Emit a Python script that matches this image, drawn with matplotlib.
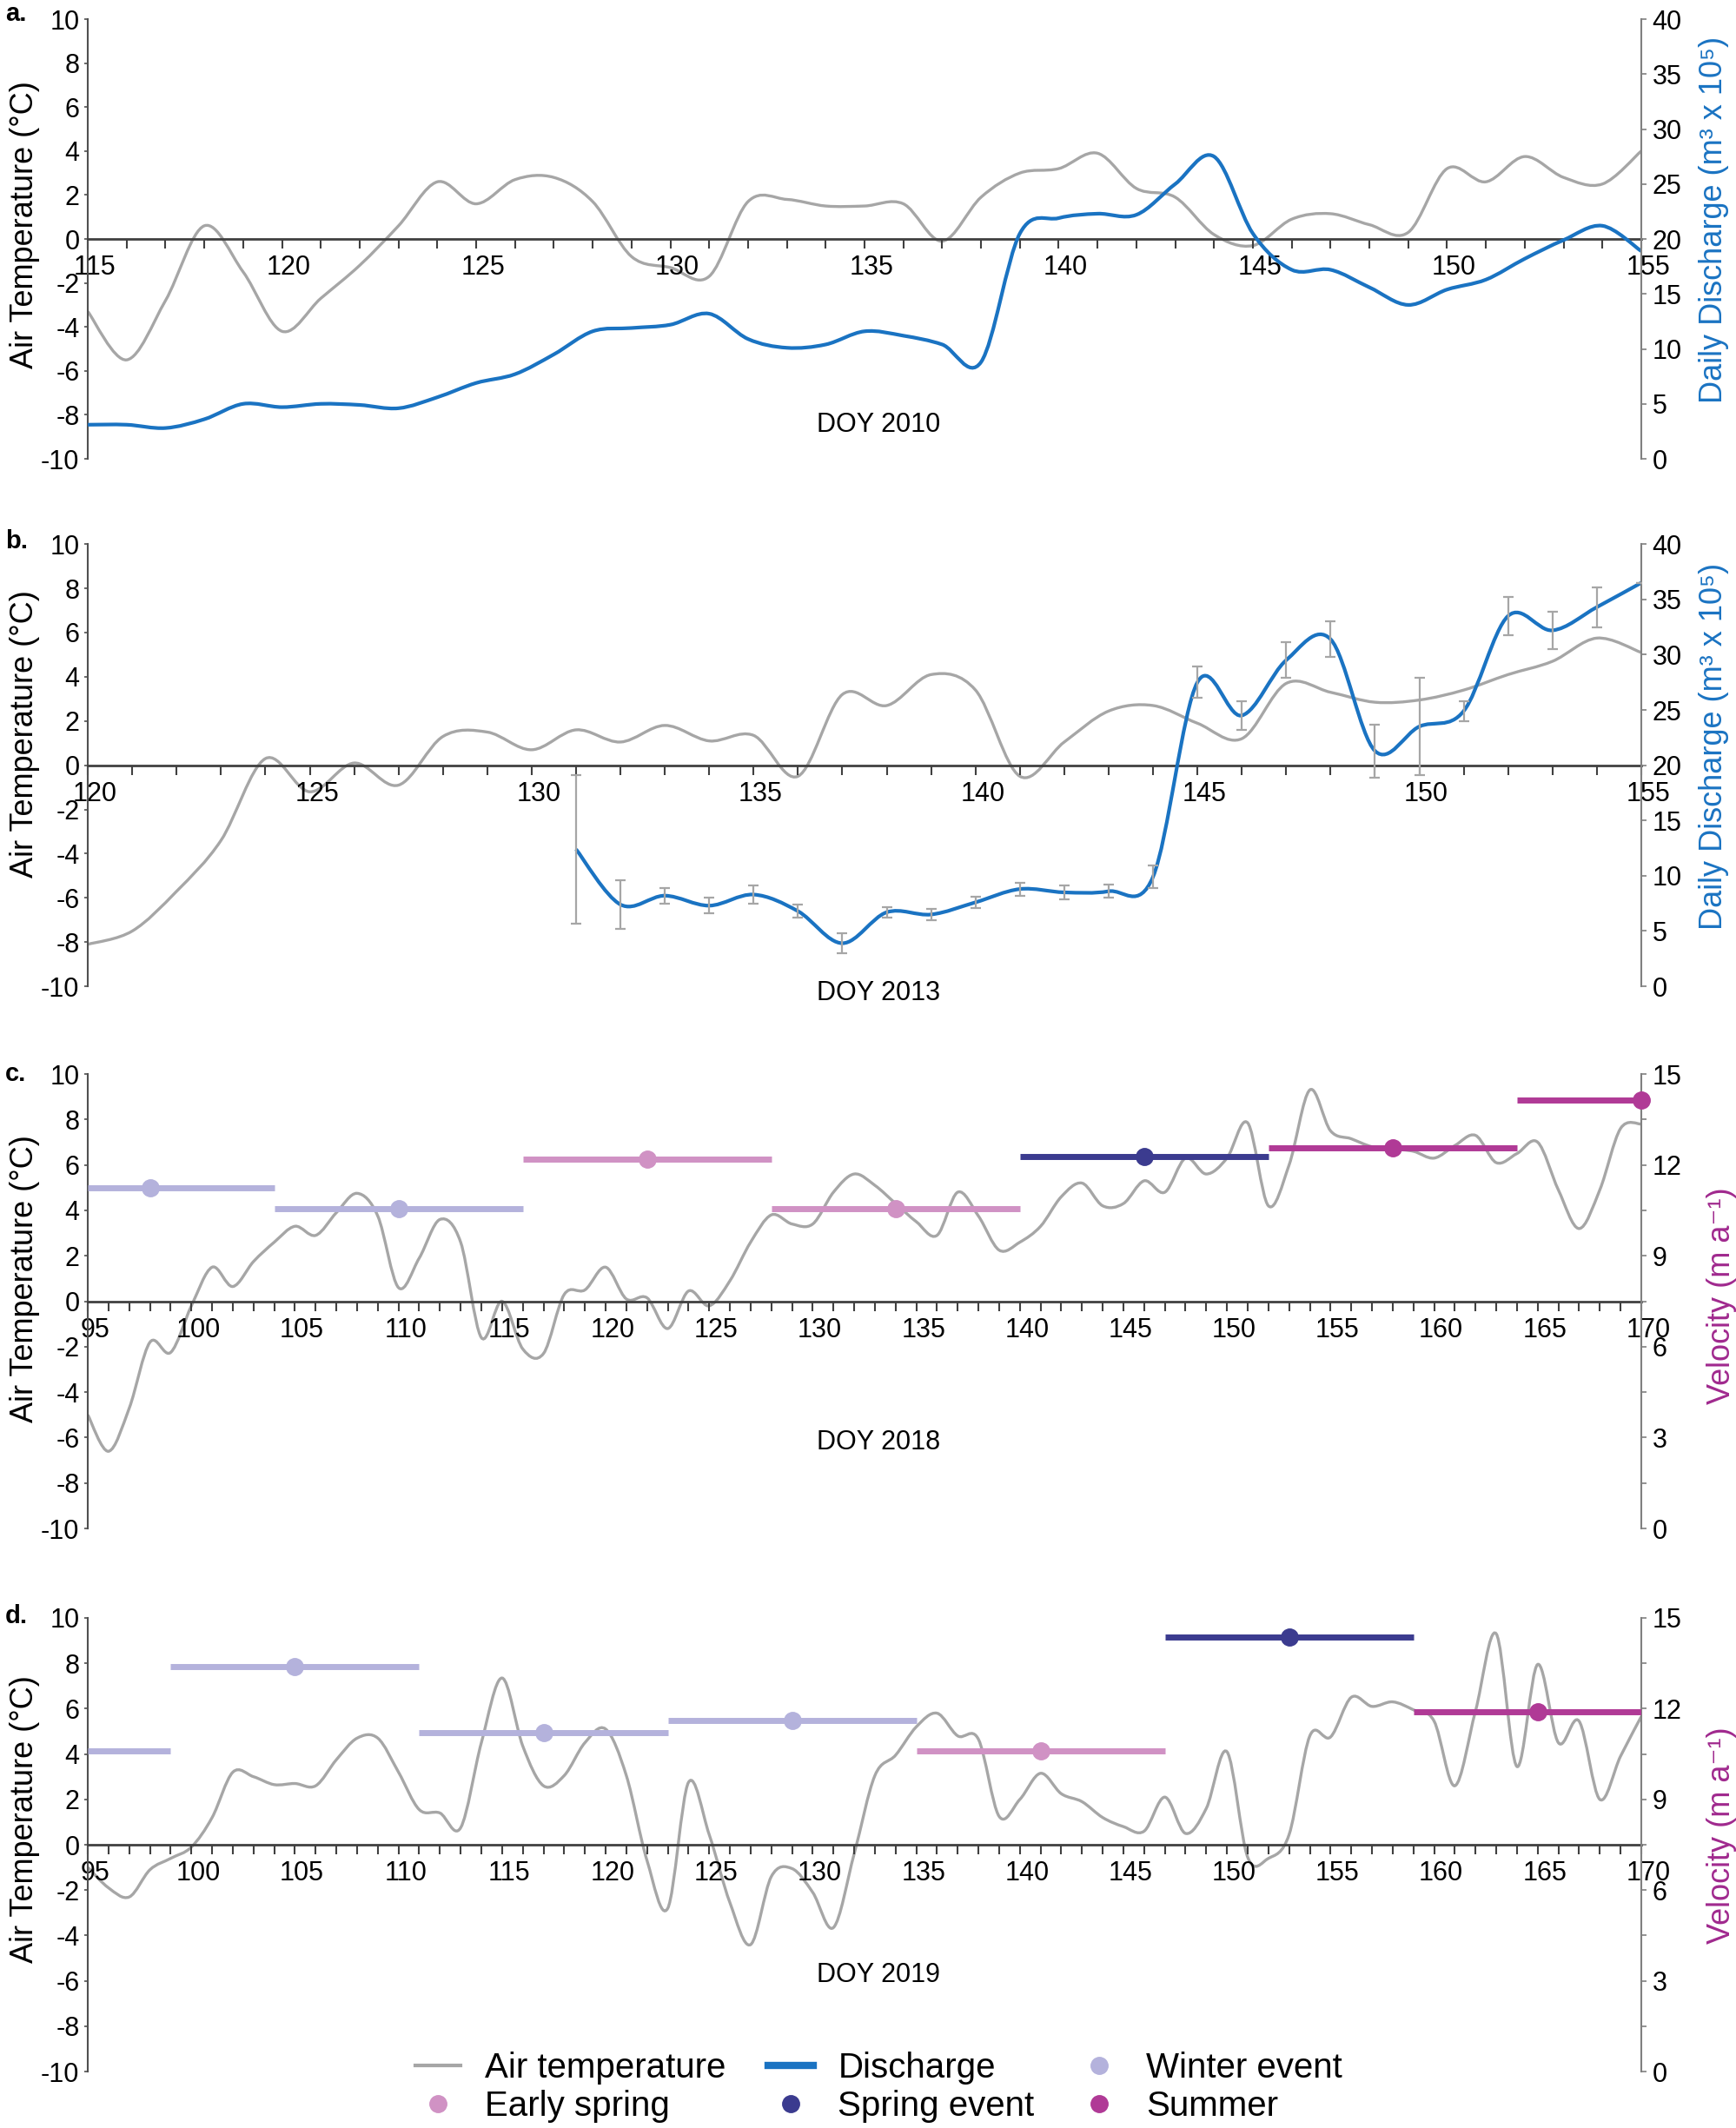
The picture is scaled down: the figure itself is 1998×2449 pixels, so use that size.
import matplotlib
matplotlib.use('Agg')
import matplotlib.pyplot as plt
import matplotlib.transforms as mtransforms
from matplotlib.path import Path
from matplotlib.patches import PathPatch
from matplotlib.lines import Line2D
from matplotlib.ticker import MultipleLocator, FixedLocator
from matplotlib import font_manager
import numpy as np

names = {f.name for f in font_manager.fontManager.ttflist}
NARROW = 'Liberation Sans Narrow' if 'Liberation Sans Narrow' in names else 'Liberation Sans'
plt.rcParams['font.family'] = ['Liberation Sans', 'DejaVu Sans']
plt.rcParams['axes.unicode_minus'] = False

# ---- data ----
# a. 2010
doy_a = list(range(115, 156))
temp_a = [-3.3, -5.5, -2.8, 0.6, -1.5, -4.2, -2.7, -1.2, 0.6, 2.6,
          1.6, 2.7, 2.8, 1.7, -0.8, -1.3, -1.7, 1.7, 1.8, 1.5,
          1.5, 1.6, -0.1, 1.9, 3.0, 3.2, 3.9, 2.3, 1.9, 0.2,
          -0.3, 0.9, 1.15, 0.65, 0.3, 3.2, 2.6, 3.75, 2.8, 2.5, 4.0]
disch_a = [3.1, 3.1, 2.8, 3.6, 5.0, 4.7, 5.0, 4.9, 4.6, 5.6,
           6.9, 7.7, 9.5, 11.6, 11.9, 12.2, 13.2, 10.9, 10.1, 10.4,
           11.6, 11.2, 10.4, 8.8, 20.5, 21.9, 22.3, 22.2, 25.0, 27.5,
           20.5, 17.2, 17.2, 15.6, 14.0, 15.4, 16.3, 18.2, 19.9, 21.2, 18.9]

# b. 2013
doy_b = list(range(120, 156))
temp_b = [-8.1, -7.5, -5.7, -3.4, 0.3, -1.2, 0.1, -0.9, 1.3, 1.5,
          0.7, 1.6, 1.05, 1.8, 1.1, 1.35, -0.5, 3.2, 2.7, 4.1,
          3.4, -0.5, 1.05, 2.45, 2.7, 1.9, 1.2, 3.7, 3.3, 2.85,
          2.95, 3.4, 4.1, 4.7, 5.75, 5.1]
doy_qb = list(range(131, 156))
disch_b = [12.4, 7.4, 8.2, 7.3, 8.3, 6.8, 3.9, 6.7, 6.5, 7.6,
           8.8, 8.5, 8.6, 9.9, 27.5, 24.5, 29.5, 31.4, 21.3, 23.5,
           24.9, 33.5, 32.2, 34.3, 36.5]
disch_b_err = [6.7, 2.2, 0.7, 0.7, 0.8, 0.6, 0.9, 0.5, 0.5, 0.5,
               0.6, 0.6, 0.6, 1.0, 1.4, 1.3, 1.6, 1.6, 2.4, 4.4,
               0.9, 1.7, 1.7, 1.8, 0.0]

# c. 2018
doy_c = list(range(95, 171))
temp_c = [-5.0, -6.6, -4.7, -1.8, -2.25, -0.2, 1.5, 0.65, 1.75, 2.6,
          3.3, 2.9, 3.9, 4.75, 3.75, 0.6, 1.9, 3.6, 2.6, -1.6,
          0.0, -2.1, -2.3, 0.3, 0.5, 1.5, 0.1, 0.15, -1.2, 0.45,
          -0.2, 0.9, 2.6, 3.8, 3.4, 3.4, 4.8, 5.6, 5.1, 4.3,
          3.5, 2.9, 4.8, 3.75, 2.25, 2.6, 3.3, 4.6, 5.2, 4.2,
          4.3, 5.3, 4.8, 6.3, 5.6, 6.3, 7.85, 4.2, 6.0, 9.3,
          7.5, 7.15, 6.8, 6.7, 6.6, 6.3, 6.85, 7.3, 6.1, 6.5,
          7.0, 4.9, 3.2, 4.9, 7.6, 7.8]
vel_c_mid = [98, 110, 122, 134, 146, 158, 170]
vel_c = [11.23, 10.56, 12.19, 10.56, 12.28, 12.55, 14.13]
vel_c_class = ['Winter event', 'Winter event', 'Early spring', 'Early spring',
               'Spring event', 'Summer', 'Summer']

# d. 2019
doy_d = list(range(95, 171))
temp_d = [-1.0, -1.9, -2.3, -1.1, -0.6, -0.1, 1.2, 3.2, 3.0, 2.65,
          2.7, 2.6, 3.75, 4.7, 4.7, 3.2, 1.55, 1.4, 0.75, 4.5,
          7.35, 4.35, 2.6, 3.05, 4.5, 5.1, 3.05, -0.7, -2.8, 2.75,
          0.45, -2.55, -4.4, -1.4, -1.05, -2.1, -3.65, -0.4, 3.05, 3.95,
          5.2, 5.8, 4.8, 4.65, 1.25, 2.0, 3.15, 2.25, 1.9, 1.2,
          0.8, 0.6, 2.1, 0.5, 1.6, 4.1, -0.55, -0.6, 0.45, 4.8,
          4.75, 6.5, 6.1, 6.3, 5.95, 5.45, 2.6, 5.9, 9.3, 3.45,
          7.95, 4.5, 5.45, 2.0, 3.9, 5.65]
vel_d_mid = [93, 105, 117, 129, 141, 153, 165]
vel_d = [10.59, 13.39, 11.21, 11.61, 10.59, 14.38, 11.91]
vel_d_class = ['Winter event', 'Winter event', 'Winter event', 'Winter event',
               'Early spring', 'Spring event', 'Summer']
window_half = 6

# ---- styles ----
GREY = '#a6a6a6'
BLUE = '#1a73c2'
VCOL = '#a0298e'
CLASS_COL = {'Winter event': '#b4b2dc', 'Early spring': '#d092c4',
             'Spring event': '#3b3b8f', 'Summer': '#b03a96'}
TICK_FS = 22
LAB_FS = 26


def smooth_line(ax, x, y, **kw):
    # Excel-like smoothed line: Catmull-Rom through the points as Bezier curves
    x = np.asarray(x, float)
    y = np.asarray(y, float)
    n = len(x)
    verts = [(x[0], y[0])]
    codes = [Path.MOVETO]
    for i in range(n - 1):
        xp, yp = (x[i - 1], y[i - 1]) if i > 0 else (x[i], y[i])
        xn, yn = (x[i + 2], y[i + 2]) if i + 2 < n else (x[i + 1], y[i + 1])
        c1 = (x[i] + (x[i + 1] - xp) / 6, y[i] + (y[i + 1] - yp) / 6)
        c2 = (x[i + 1] - (xn - x[i]) / 6, y[i + 1] - (yn - y[i]) / 6)
        verts += [c1, c2, (x[i + 1], y[i + 1])]
        codes += [Path.CURVE4] * 3
    ax.add_patch(PathPatch(Path(verts, codes), fill=False, **kw))


def setup(ax, xmin, xmax, rmax, rmajor, rminor, rlabel, rcolor, doy_text, doy_y,
          lab_y_left, lab_x_right, lab_y_right):
    ax.set_xlim(xmin, xmax)
    ax.set_ylim(-10, 10)
    ax.spines['top'].set_visible(False)
    ax.spines['right'].set_visible(False)
    ax.spines['bottom'].set_position(('data', 0))
    ax.spines['bottom'].set_color('#404040')
    ax.spines['bottom'].set_linewidth(2)
    ax.spines['left'].set_color('#505050')
    ax.spines['left'].set_linewidth(1.5)
    ax.xaxis.set_major_locator(FixedLocator(list(range(xmin, xmax + 1, 5))))
    ax.xaxis.set_minor_locator(MultipleLocator(1))
    ax.tick_params(axis='x', which='both', direction='out', length=8, width=1.5,
                   color='#404040', pad=5, labelsize=TICK_FS)
    ax.set_yticks(range(-10, 11, 2))
    ax.tick_params(axis='y', direction='out', length=3, width=1.2, color='#505050',
                   pad=4, labelsize=TICK_FS)
    for lab in ax.get_xticklabels() + ax.get_yticklabels():
        lab.set_family(NARROW)
    off = mtransforms.ScaledTranslation(8 / 100, 0, ax.figure.dpi_scale_trans)
    for lab in ax.get_xticklabels():
        lab.set_transform(lab.get_transform() + off)
    ax.set_ylabel('Air Temperature (°C)', fontsize=LAB_FS)
    ax.yaxis.set_label_coords(-0.031, lab_y_left)
    ax.text(0.509, doy_y, doy_text, transform=ax.transAxes, ha='center', va='center',
            fontsize=TICK_FS, family=NARROW)

    ax2 = ax.twinx()
    ax2.set_ylim(0, rmax)
    for s in ['top', 'left', 'bottom']:
        ax2.spines[s].set_visible(False)
    ax2.spines['right'].set_color('#808080')
    ax2.spines['right'].set_linewidth(1.5)
    ax2.yaxis.set_major_locator(MultipleLocator(rmajor))
    ax2.yaxis.set_minor_locator(MultipleLocator(rminor))
    ax2.tick_params(axis='y', which='both', direction='out', length=4, width=1.2,
                    color='#808080', pad=5, labelsize=TICK_FS)
    for lab in ax2.get_yticklabels():
        lab.set_family(NARROW)
    ax2.set_ylabel(rlabel, color=rcolor, fontsize=LAB_FS)
    ax2.yaxis.set_label_coords(lab_x_right, lab_y_right)
    return ax2


fig = plt.figure(figsize=(19.98, 24.49), dpi=100)
L, W = 0.0506, 0.8948
ax_a = fig.add_axes([L, 0.7844, W, 0.2066])
ax_b = fig.add_axes([L, 0.5365, W, 0.2078])
ax_c = fig.add_axes([L, 0.2817, W, 0.2136])
ax_d = fig.add_axes([L, 0.0265, W, 0.2132])

qlabel = 'Daily Discharge (m³ x 10⁵)'
vlabel = 'Velocity (m a⁻¹)'

# a
a2 = setup(ax_a, 115, 155, 40, 5, 5, qlabel, BLUE, 'DOY 2010', 0.077, 0.533, 1.037, 0.543)
smooth_line(ax_a, doy_a, temp_a, edgecolor=GREY, lw=2.4, transform=ax_a.transData)
smooth_line(a2, doy_a, disch_a, edgecolor=BLUE, lw=3.0, transform=a2.transData)

# b
b2 = setup(ax_b, 120, 155, 40, 5, 5, qlabel, BLUE, 'DOY 2013', -0.016, 0.57, 1.037, 0.542)
smooth_line(ax_b, doy_b, temp_b, edgecolor=GREY, lw=2.4, transform=ax_b.transData)
smooth_line(b2, doy_qb, disch_b, edgecolor=BLUE, lw=3.0, transform=b2.transData)
b2.errorbar(doy_qb, disch_b, yerr=disch_b_err, fmt='none', ecolor=GREY,
            elinewidth=1.6, capsize=4, capthick=1.6, zorder=3)

# c, d
for ax, doy, temp, mids, vel, cls, txt, ty, ly, ry in [
        (ax_c, doy_c, temp_c, vel_c_mid, vel_c, vel_c_class, 'DOY 2018', 0.19, 0.55, 0.512),
        (ax_d, doy_d, temp_d, vel_d_mid, vel_d, vel_d_class, 'DOY 2019', 0.213, 0.557, 0.52)]:
    v2 = setup(ax, 95, 170, 15, 3, 1.5, vlabel, VCOL, txt, ty, ly, 1.042, ry)
    smooth_line(ax, doy, temp, edgecolor=GREY, lw=2.4, transform=ax.transData)
    for m, v, c in zip(mids, vel, cls):
        v2.hlines(v, max(m - window_half, 95), min(m + window_half, 170),
                  color=CLASS_COL[c], lw=5, zorder=4)
        if 95 <= m <= 170:
            v2.plot([m], [v], 'o', color=CLASS_COL[c], ms=14, zorder=5, clip_on=False)

# panel letters
for y, t in [(0.9935, 'a.'), (0.7455, 'b.'), (0.4955, 'c.'), (0.2405, 'd.')]:
    fig.text(0.003, y, t, fontsize=21, fontweight='bold', va='center', family=NARROW)

# legend
handles = [
    Line2D([], [], color=GREY, lw=3),
    Line2D([], [], ls='none', marker='o', ms=14, color=CLASS_COL['Early spring']),
    Line2D([], [], color=BLUE, lw=6),
    Line2D([], [], ls='none', marker='o', ms=14, color=CLASS_COL['Spring event']),
    Line2D([], [], ls='none', marker='o', ms=14, color=CLASS_COL['Winter event']),
    Line2D([], [], ls='none', marker='o', ms=14, color=CLASS_COL['Summer']),
]
labels = ['Air temperature', 'Early spring', 'Discharge', 'Spring event',
          'Winter event', 'Summer']
fig.legend(handles, labels, ncol=3, loc='lower left', bbox_to_anchor=(0.235, -0.001),
           frameon=False, prop={'family': NARROW, 'size': 29}, handlelength=1.3,
           handletextpad=0.7, columnspacing=1.2, labelspacing=0.15, borderpad=0.2,
           borderaxespad=0)

fig.savefig('out.png', dpi=100)
